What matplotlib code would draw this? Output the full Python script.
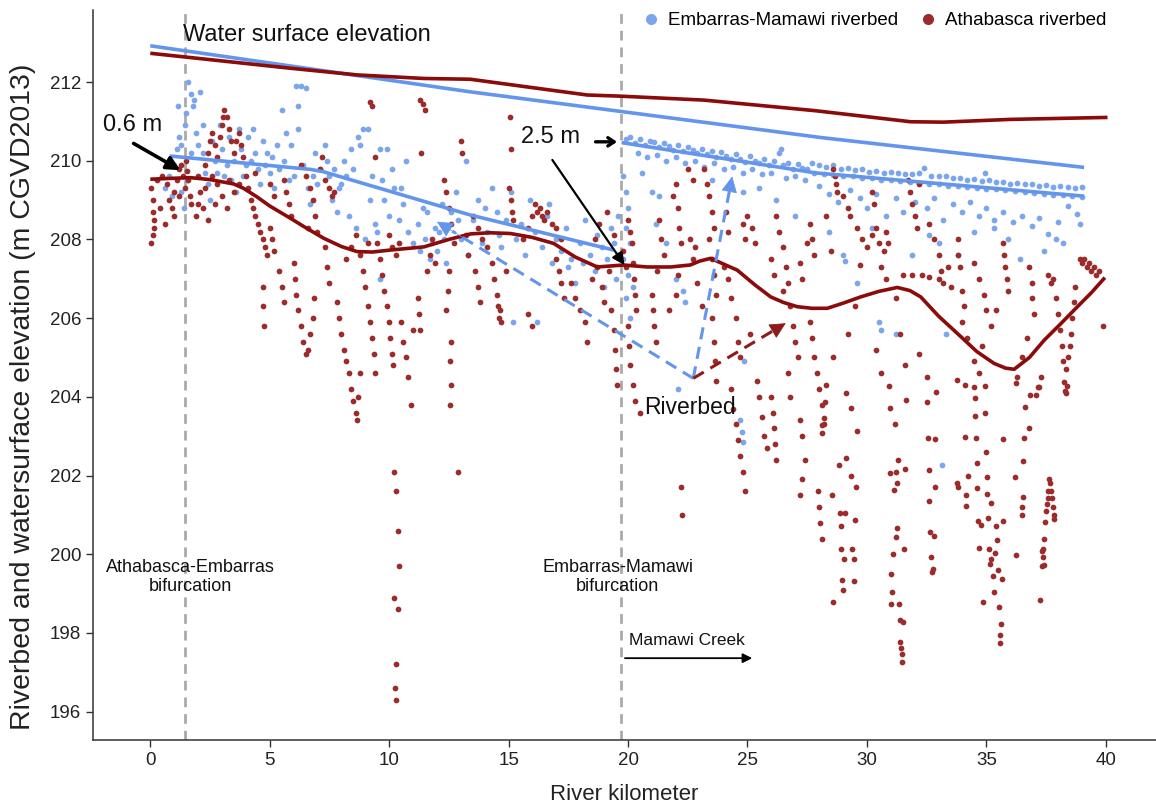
import numpy as np
import matplotlib
matplotlib.use("Agg")
import matplotlib.pyplot as plt
from matplotlib.lines import Line2D

plt.rcParams['font.family'] = ['Liberation Sans', 'DejaVu Sans']

# ---------------- data ----------------
# Water surface elevation lines (km, m)
wse_blue_km = [0, 13.4, 28.06, 39.09]
wse_blue_el = [212.92, 211.75, 210.59, 209.83]
wse_red_km = [0, 5.86, 8.66, 11.45, 13.4, 16.2, 18.29, 19.69, 23.18, 27.85, 31.83, 33.2, 36.0, 40.07]
wse_red_el = [212.73, 212.35, 212.18, 212.09, 212.07, 211.84, 211.67, 211.64, 211.54, 211.27, 210.99, 210.98, 211.05, 211.1]

# Riverbed trend lines
bed_red_km = [0, 0.8, 1.68, 2.5, 3.49, 3.9, 4.47, 5.0, 5.86, 6.5, 7.26, 8.0, 8.66, 9.3, 10.05, 11.45, 12.5,
              13.4, 14.2, 15.08, 16.0, 16.88, 17.8, 18.71, 19.82, 20.8, 21.78, 22.6, 23.0, 23.46, 23.9,
              24.57, 25.3, 25.97, 26.5, 27.09, 27.7, 28.34, 29.0, 29.74, 30.5, 31.27, 31.8, 32.25, 33.0,
              33.93, 34.6, 35.32, 35.8, 36.16, 36.8, 37.42, 38.1, 38.81, 39.4, 39.96]
bed_red_el = [209.53, 209.55, 209.57, 209.52, 209.41, 209.3, 209.08, 208.85, 208.54, 208.3, 208.03, 207.82,
              207.69, 207.68, 207.73, 207.81, 208.0, 208.14, 208.17, 208.15, 208.05, 207.9, 207.55, 207.3,
              207.35, 207.3, 207.3, 207.35, 207.45, 207.52, 207.4, 207.22, 206.85, 206.54, 206.4, 206.29,
              206.25, 206.25, 206.38, 206.54, 206.68, 206.78, 206.7, 206.54, 206.05, 205.53, 205.15, 204.85,
              204.73, 204.7, 205.0, 205.44, 205.85, 206.29, 206.65, 207.03]
bed_blue1_km = [0.81, 6.7, 7.25, 13.4, 19.4]
bed_blue1_el = [210.12, 209.78, 209.72, 208.62, 207.73]
bed_blue2_km = [19.73, 27.85, 39.09]
bed_blue2_el = [210.46, 209.69, 209.1]

# Athabasca riverbed survey points (km, m)
red_pts_west = [
    (0.05,209.3),(0.1,209.0),(0.1,208.7),(0.15,208.5),(0.15,208.3),(0.1,208.1),(0.05,207.9),
    (0.3,209.5),(0.5,209.6),(0.7,209.4),(0.8,209.0),(0.9,208.8),(1.0,209.2),(1.0,208.6),(1.1,209.5),
    (1.2,209.8),(1.3,209.9),(1.35,209.6),(1.45,209.3),(1.5,210.0),(1.55,209.75),(1.6,209.5),(1.65,209.1),
    (1.7,208.9),(1.2,209.1),(0.9,209.9),(1.9,208.6),(2.0,208.9),(2.1,209.2),(2.2,208.8),(2.3,209.3),(2.0,209.6),
    (0.4,208.8),(0.6,208.4),(2.4,208.5),(3.2,208.8),
    (2.3,209.9),(2.4,210.2),(2.5,210.5),(2.6,210.7),(2.7,210.4),(2.8,210.1),(2.9,210.6),(3.0,210.9),
    (3.05,211.1),(3.1,211.3),(3.2,211.1),(3.3,210.8),(3.4,210.5),(3.5,210.2),(3.6,210.5),(3.7,210.7),
    (3.8,210.4),(3.9,210.1),(2.6,209.6),(2.8,209.4),(3.0,209.1),(2.7,208.9),(3.3,209.5),(3.5,209.2),
    (3.7,209.4),(4.0,209.6),
    (4.1,209.3),(4.2,209.0),(4.3,208.8),(4.4,208.6),(4.5,208.4),(4.6,208.2),(4.7,208.0),(4.8,207.8),
    (4.9,207.6),(5.0,208.3),(5.1,208.0),(5.2,207.7),(4.7,206.8),(4.7,206.3),(4.75,205.8),(5.0,209.4),
    (5.2,209.1),(4.4,209.7),(5.4,207.2),(5.5,206.8),(5.6,206.4),
    (5.6,209.5),(5.7,209.2),(5.8,208.9),(5.9,208.6),(6.0,207.4),(6.05,207.0),(6.1,206.6),(6.2,206.2),
    (6.3,205.8),(6.4,205.4),(6.5,205.1),(6.6,205.2),(6.7,205.6),(6.8,206.0),(6.85,206.5),
    (6.3,209.9),(6.5,209.6),(6.7,209.3),(6.8,209.0),(6.9,208.6),(7.0,208.2),(7.1,209.8),(7.2,210.1),
    (7.3,209.5),(6.6,208.3),(7.5,209.3),(7.6,209.1),(7.7,209.2),(7.3,207.8),(7.4,207.3),(7.5,206.9),
    (7.8,206.4),(7.9,206.0),(8.0,205.6),(8.1,205.2),(8.2,204.9),(8.3,204.6),(8.4,204.2),(8.5,203.9),
    (8.6,203.6),(8.65,203.4),(8.7,204.0),(8.8,204.6),(8.2,207.5),(8.4,207.8),(8.6,208.1),(8.8,207.6),
    (8.9,207.2),(9.0,206.8),(9.1,206.3),(9.2,205.9),(9.1,207.9),(9.2,211.5),(9.3,211.4),(9.4,210.1),
    (9.3,205.5),(9.35,205.1),(9.4,204.6),
    (9.5,207.9),(9.6,207.5),(9.7,207.1),(9.8,206.7),(9.9,206.3),(10.0,205.9),(10.05,205.5),(10.1,205.1),
    (10.15,204.8),(10.0,208.1),(10.1,207.8),(10.3,207.6),(10.4,207.9),
    (10.2,202.1),(10.3,201.6),(10.35,200.6),(10.4,199.7),(10.2,198.9),(10.35,198.6),(10.3,197.2),
    (10.25,196.6),(10.3,196.3),
    (10.5,205.9),(10.6,205.4),(10.7,205.0),(10.8,204.5),(10.9,203.8),(11.0,205.7),
    (11.3,211.55),(11.4,211.45),(11.5,211.3),(11.35,210.2),(11.6,207.2),(11.7,207.6),(11.8,208.0),(11.9,207.4),
    (11.2,206.5),(11.25,206.1),(11.3,205.7),
    (12.3,209.5),(12.4,209.2),(12.5,208.8),(12.6,208.4),(12.7,207.9),(12.5,207.2),(12.45,206.7),(12.4,206.2),
    (12.6,205.4),(12.55,204.9),(12.6,204.3),(12.55,203.8),(12.9,202.1),(13.0,210.5),(13.05,210.2),
    (13.2,208.1),(13.3,207.6),(13.6,207.2),(13.7,206.8),(13.8,206.4),
    (13.5,208.6),(13.7,208.3),(13.9,208.0),(14.1,207.8),(14.3,207.4),(14.4,207.0),(14.5,206.6),(14.55,206.3),
    (14.6,206.0),(14.7,205.9),(14.65,206.2),(15.05,211.1),(15.1,210.3),(15.0,209.3),(15.1,209.0),
    (15.15,208.7),(15.2,208.5),(14.9,207.2),
    (15.6,208.0),(15.8,208.3),(16.0,208.6),(16.1,208.9),(16.2,208.7),(16.3,208.8),(16.4,208.6),(16.5,208.5),
    (16.6,208.7),(16.8,208.4),(17.0,208.3),(17.2,208.0),(17.0,207.5),(17.1,207.2),(17.2,206.9),(17.3,206.5),
    (15.8,206.1),(16.0,205.8),
    (17.6,206.9),(17.8,206.5),(18.0,206.2),(18.2,205.9),(18.3,205.4),(18.5,207.0),(18.7,207.3),(18.9,206.8),
    (19.0,206.4),(19.2,207.2),(19.3,206.2),(19.4,205.7),(19.45,205.2),(19.5,204.7),(19.55,204.3),
    (19.4,208.1),(19.6,207.6),(18.6,208.0),(18.8,208.4),(19.1,208.7),
    (19.8,207.7),(19.9,207.3),(20.0,208.5),(20.1,208.2),(20.15,207.9),(20.2,207.4),(20.25,207.0),(20.3,206.6),
    (20.35,206.2),(20.0,205.8),(20.05,205.3),(20.1,204.8),(20.2,204.3),(20.3,203.9),(20.5,203.6),
]
red_pts_east = [
    (21.0,206.6),(21.05,206.2),(21.1,205.8),(21.15,205.4),(21.2,207.2),(21.7,206.2),
    (21.3,208.5),(21.4,208.0),(21.5,207.6),(21.9,209.1),(22.0,209.4),(22.1,208.8),(22.15,208.3),(22.2,207.9),
    (22.1,207.1),(22.0,206.6),(22.2,201.7),(22.25,201.0),(22.6,208.0),(22.7,207.5),(22.8,207.8),(22.9,206.9),
    (23.1,206.3),(22.5,209.8),(22.7,209.5),(23.2,209.8),(23.3,209.4),(23.4,209.1),(23.5,208.7),(23.6,208.3),
    (23.4,208.0),(23.5,207.5),(23.6,207.1),(23.7,206.6),(23.5,206.0),(23.6,205.4),(23.65,204.9),(23.7,204.4),
    (24.0,207.3),(24.2,207.0),(24.3,206.5),(24.5,206.0),(24.6,205.4),(24.7,205.0),(24.3,204.2),(24.4,203.7),
    (24.5,203.3),(24.6,202.9),(24.7,202.5),(24.8,202.1),(24.9,201.6),(24.8,208.4),(24.9,208.0),(25.0,208.6),
    (25.2,208.3),(25.3,207.9),(25.1,205.6),(25.4,204.4),(25.5,204.0),(25.6,203.5),(25.7,203.0),(25.8,202.7),
    (24.1,208.7),(24.2,208.2),(26.0,207.5),(26.1,207.1),(27.2,207.4),(27.3,207.0),
    (26.0,204.0),(26.05,203.6),(26.1,203.2),(26.15,202.8),(26.2,202.4),
    (26.2,208.6),(26.3,208.2),(26.5,207.8),(26.6,207.3),(26.7,206.9),(26.5,206.7),(26.8,206.3),(26.9,205.8),
    (27.0,205.4),(27.1,205.0),(26.7,204.6),(26.8,204.0),(27.2,203.4),(27.3,203.0),(27.4,202.4),(27.3,201.9),
    (27.2,201.5),(27.6,205.9),(27.7,205.5),(27.8,205.0),(27.9,204.6),(28.0,204.2),(28.1,203.8),(28.2,203.3),
    (27.95,201.6),(28.0,201.2),(28.05,200.8),(28.1,200.4),
    (27.6,208.4),(27.7,208.0),(27.8,207.6),(27.5,207.9),(28.3,208.6),(28.5,207.7),
    (28.6,209.8),(28.65,209.6),(28.7,209.4),(28.75,209.2),(29.0,209.1),(29.2,208.8),(29.3,208.6),
    (29.6,208.3),(29.8,208.0),(30.0,207.8),(30.2,208.1),(30.4,208.3),(30.5,207.9),(30.7,207.7),(30.8,208.2),
    (30.9,207.9),(30.2,209.2),(30.3,208.9),(29.7,207.35),(30.6,207.3),(30.8,207.0),
    (28.6,205.0),(29.2,205.6),(29.5,206.3),(30.4,205.2),(30.6,204.6),
    (31.7,209.5),(31.8,209.2),(31.9,208.9),(32.0,208.6),(32.1,208.3),(32.2,209.4),
    (31.5,207.1),(31.9,207.1),(32.3,207.1),(32.6,207.05),(33.0,207.0),(33.1,207.2),(33.2,206.9),(33.4,207.3),
    (33.5,206.8),(33.8,208.0),(33.8,207.6),(33.9,207.3),(34.0,206.7),(34.05,206.3),(34.0,205.9),
    (31.2,206.5),(31.4,205.6),(31.6,204.8),(32.2,205.1),(32.5,204.5),
    (32.6,208.4),(32.8,208.0),(33.0,207.6),(34.5,207.4),(34.7,207.0),(34.9,206.6),(35.0,206.2),(34.8,205.3),
    (34.2,205.5),(34.5,204.9),(34.7,204.6),(36.3,204.5),(36.5,205.0),(36.7,205.5),
    (35.7,207.9),(35.75,207.6),(35.8,207.3),(35.85,207.0),(35.9,206.7),(35.4,206.2),(35.2,205.8),
    (36.8,207.3),(36.9,206.9),(36.9,206.5),(37.0,206.1),(37.6,207.1),(37.7,206.9),(37.8,207.0),
    (37.9,206.5),(38.0,206.1),(38.1,205.7),(38.15,205.3),(38.2,204.9),(37.3,204.5),
    (38.9,207.5),(39.0,207.4),(39.1,207.5),(39.2,207.3),(39.3,207.4),(39.4,207.2),(39.5,207.3),(39.6,207.1),
    (39.7,207.2),(38.7,206.8),(38.65,206.4),(38.6,206.0),(38.55,205.6),(38.5,205.3),(38.4,205.0),
    (38.35,204.7),(39.9,205.8),
]
red_pts_deep = [
    (28.27,204.30),(29.14,204.09),(28.26,203.88),(29.32,203.71),(28.2,203.46),(28.13,203.29),(28.13,203.07),
    (29.57,203.13),(29.11,202.44),(28.83,202.27),(29.34,201.99),(29.53,201.72),(28.52,201.51),(28.87,201.04),
    (29.08,201.04),(28.9,200.72),(29.5,200.87),(28.93,200.13),(29.39,200.13),(29.04,199.87),(29.46,199.87),
    (28.97,199.35),(29.46,199.31),(29.01,199.09),(28.56,198.78),
    (30.92,204.28),(30.96,203.71),(31.62,203.92),(31.16,203.3),(31.3,202.4),(30.95,202.07),(31.2,202.08),
    (31.58,202.16),(31.27,201.8),(31.13,201.63),(31.24,200.66),(31.22,200.45),(31.55,200.13),(31.09,200.01),
    (30.99,199.5),(31.05,199.04),(31.02,198.74),(31.34,198.74),(31.37,198.33),(31.51,198.27),(31.38,197.78),
    (31.43,197.63),(31.45,197.47),(31.48,197.27),
    (32.89,204.13),(32.53,203.88),(32.56,202.95),(32.86,202.94),(32.59,202.13),(32.84,201.72),(32.61,201.36),
    (32.64,200.57),(32.81,200.46),(32.67,199.93),(32.75,199.63),(32.74,199.56),
    (33.76,204.43),(34.09,204.3),(34.48,204.24),(34.93,204.28),(34.51,203.98),(34.54,203.51),(34.96,203.59),
    (34.12,202.99),(34.57,202.96),(35.71,202.92),(34.99,202.59),(34.6,202.33),(34.21,201.98),(35.02,201.96),
    (33.79,201.8),(33.81,201.72),(34.62,201.68),(34.15,201.51),(35.04,201.52),(35.21,201.31),(34.16,201.23),
    (34.65,200.85),(34.79,200.74),(35.07,200.91),(35.41,200.73),(35.69,200.84),(35.43,200.37),(34.69,200.15),
    (35.11,200.13),(35.35,200.02),(35.18,199.87),(35.15,199.75),(35.49,199.59),(35.29,199.45),(35.67,199.37),
    (35.32,199.03),(34.85,198.79),(35.52,198.65),(35.63,198.23),(35.55,197.95),(35.57,197.74),
    (36.24,204.35),(37.14,204.24),(37.21,204.26),(36.83,204.05),(37.08,204.05),(36.61,203.74),(36.79,203.2),
    (36.58,202.96),(36.55,202.37),(36.19,201.97),(36.52,201.46),(36.5,201.21),(36.47,201.0),(36.22,199.99),
    (37.25,198.84),
    (37.64,201.9),(37.67,201.8),(37.6,201.61),(37.72,201.61),(37.56,201.42),(37.74,201.42),(37.53,201.27),
    (37.77,201.21),(37.5,201.1),(37.81,200.99),(37.84,200.89),(37.47,200.82),(37.43,200.38),(37.35,200.13),
    (37.32,200.08),(37.36,199.93),(37.31,199.71),(37.4,199.72),
    (38.26,204.39),(38.39,204.28),(38.3,204.16),(38.35,204.09),
]

# Embarras-Mamawi riverbed survey points (km, m)
blue_pts_west = [
    (0.6,209.3),(0.8,209.6),(0.9,209.1),(1.0,209.9),(1.1,210.3),(1.15,211.4),(1.2,210.6),(1.3,209.2),
    (1.4,208.8),(1.45,210.9),(1.5,211.2),(1.55,209.5),(1.6,212.0),(1.7,211.7),(1.8,211.4),(1.85,211.55),
    (1.9,210.7),(2.0,210.4),(2.1,211.75),(2.2,210.2),(2.3,209.7),(2.4,209.4),(2.5,209.0),(2.7,210.0),
    (2.8,209.7),(3.0,210.3),(3.2,209.9),(3.3,210.6),(3.4,209.5),(3.6,209.2),(3.7,210.8),(3.8,210.3),
    (4.0,209.9),(4.1,210.6),(4.3,210.8),(4.4,210.2),(4.5,209.8),(4.6,209.4),(4.7,210.5),(4.9,210.2),
    (5.0,209.7),(5.2,209.3),(5.3,210.4),(5.5,211.3),(5.6,210.0),(5.8,209.5),(5.9,210.4),(6.1,211.9),
    (6.2,211.4),(6.3,211.9),(6.5,211.85),(6.2,210.8),(6.4,209.9),(6.6,209.3),(6.7,208.9),(6.9,210.2),
    (7.1,209.8),(7.3,210.4),(7.5,209.6),(7.6,209.0),(7.8,208.7),(7.9,209.3),(8.1,210.0),(8.2,209.6),
    (8.3,208.6),(8.4,210.3),(8.5,209.8),(8.6,208.3),(8.7,210.6),(8.8,210.4),(8.9,210.8),(9.0,208.0),
    (9.1,210.8),(9.2,209.0),(9.4,208.4),(9.5,208.2),(9.6,210.3),(9.7,209.5),(9.8,209.0),(9.6,207.0),
    (1.3,210.4),(1.7,210.2),(2.2,210.9),(2.6,210.5),(2.9,210.9),(3.1,209.6),(3.5,210.0),(3.9,209.6),
    (4.2,210.0),(4.8,209.9),(5.1,210.1),(5.4,209.8),(5.7,210.7),(6.0,209.6),(6.8,209.6),(7.0,209.4),
    (7.4,210.0),(7.7,209.8),(8.0,209.4),(9.3,209.6),(9.9,210.3),(10.1,209.8),(10.5,209.3),(10.7,210.0),
    (10.0,208.6),(10.2,209.3),(10.4,208.5),(10.6,208.9),(10.8,208.2),(11.0,207.9),(11.2,208.4),
    (11.3,207.7),(11.5,208.0),(11.6,208.7),(11.7,207.5),(11.8,207.9),(11.9,208.3),(12.0,207.7),
    (12.2,208.9),(12.3,208.0),(12.4,207.4),(12.6,208.7),(12.8,209.2),(13.0,208.0),(13.2,210.0),
    (13.3,207.6),(13.5,208.5),(13.7,209.0),(13.9,207.9),(14.1,208.2),(14.3,209.3),(14.5,208.7),
    (14.7,207.8),(14.9,208.5),(15.1,209.2),(15.2,205.9),(15.3,208.0),(15.5,208.4),(15.7,207.6),
    (15.9,209.0),(16.1,208.2),(16.2,205.9),(16.4,207.8),(16.6,208.6),(16.8,207.4),(17.0,208.0),
    (17.2,207.7),(17.4,208.3),(17.6,207.5),(17.8,206.9),(18.0,207.9),(18.2,208.5),(18.4,207.6),
    (18.6,207.2),(18.7,208.1),(18.9,207.8),(19.0,206.8),(19.1,207.5),(19.3,208.3),(19.4,207.9),
    (19.5,207.0),(19.6,208.6),(11.4,208.8),(12.1,208.2),(12.9,208.5),(14.0,208.8),(14.6,208.1),
    (16.7,208.9),(17.5,207.3),(18.1,207.4),
]
blue_pts_east = [
    (19.8,209.6),(19.9,209.2),(20.0,208.8),(19.9,208.3),(20.1,207.9),(19.8,207.5),(20.0,207.1),
    (20.2,206.8),(19.9,206.5),(20.1,206.0),
    (19.9,210.55),(20.1,210.6),(20.3,210.45),(20.5,210.55),(20.7,210.4),(20.9,210.5),(21.1,210.48),
    (21.3,210.35),(21.5,210.45),(21.7,210.38),(21.9,210.28),(22.1,210.4),(22.3,210.25),(22.5,210.35),
    (22.7,210.28),(22.9,210.2),(23.1,210.3),(23.3,210.18),(23.5,210.25),(23.7,210.1),(23.9,210.22),
    (24.1,210.12),(24.3,210.05),(24.5,210.18),(24.7,210.05),(24.9,209.98),(25.1,210.12),(25.3,210.0),
    (25.5,209.95),(25.7,210.05),(25.9,209.9),(26.1,210.0),(26.3,210.2),(26.4,210.3),(26.5,209.88),
    (26.7,209.95),(26.9,209.8),(27.1,209.92),(27.3,209.82),(27.5,209.78),
    (20.4,210.2),(20.8,210.1),(21.2,210.15),(21.6,210.0),(22.0,210.1),(22.4,209.95),(22.8,210.0),
    (23.2,209.85),(23.6,209.95),(24.0,209.8),(24.4,209.85),(24.8,209.7),(25.2,209.8),(25.6,209.65),
    (26.0,209.7),(26.6,209.55),(27.0,209.6),(27.4,209.5),
    (20.6,209.7),(21.0,209.2),(21.3,209.1),(21.15,208.4),(21.6,207.9),(22.0,207.0),(22.3,206.7),
    (22.4,206.4),(22.1,204.2),(23.5,209.5),(24.8,209.2),(24.85,204.9),(24.7,203.4),(24.75,203.1),
    (24.8,202.85),(25.5,209.3),(26.2,209.0),(27.0,208.6),
    (27.7,209.95),(28.0,209.88),(28.3,209.85),(28.6,209.88),(28.9,209.8),(29.2,209.82),(29.5,209.76),
    (29.8,209.78),(30.1,209.72),(30.4,209.75),(30.7,209.7),(31.0,209.72),(31.3,209.68),(31.6,209.65),
    (31.9,209.66),(32.2,209.7),(32.4,209.82),(32.7,209.62),(33.0,209.6),(33.3,209.6),(33.6,209.55),
    (33.9,209.56),(34.2,209.52),(34.5,209.54),(34.8,209.48),(34.95,209.7),(35.1,209.5),(35.4,209.45),
    (35.7,209.47),(36.0,209.42),(36.3,209.44),(36.6,209.4),(36.9,209.42),(37.2,209.36),(37.5,209.38),
    (37.8,209.33),(38.1,209.35),(38.4,209.32),(38.7,209.3),(39.0,209.32),
    (27.8,209.7),(28.2,209.66),(28.6,209.64),(29.0,209.6),(29.4,209.6),(29.8,209.56),(30.2,209.55),
    (30.6,209.52),(31.0,209.5),(31.4,209.48),(31.8,209.46),(32.2,209.44),(32.6,209.42),(33.0,209.4),
    (33.4,209.37),(33.8,209.36),(34.2,209.33),(34.6,209.31),(35.0,209.29),(35.4,209.27),(35.8,209.25),
    (36.2,209.23),(36.6,209.21),(37.0,209.19),(37.4,209.16),(37.8,209.14),(38.2,209.12),(38.6,209.1),
    (39.0,209.08),
    (28.0,209.35),(28.4,209.15),(28.8,208.95),(29.3,209.25),(29.7,209.05),(30.0,208.8),(30.4,209.15),
    (30.8,208.6),(31.2,209.05),(31.5,208.7),(32.0,208.95),(32.5,208.8),(32.8,209.05),(33.2,208.5),
    (33.6,208.9),(34.0,208.7),(34.3,208.95),(34.7,208.6),(35.0,208.8),(35.3,208.5),(35.7,208.7),
    (36.1,208.45),(36.5,208.6),(36.9,208.35),(37.2,208.55),(37.6,208.15),(38.0,208.45),(38.4,208.85),
    (38.8,208.65),(38.9,208.4),
    (28.4,208.2),(29.0,207.6),(29.1,207.45),(29.6,206.9),(30.2,208.3),(30.5,205.9),(30.6,205.7),
    (31.2,205.6),(31.9,207.6),(32.6,208.1),(33.0,207.9),(33.3,205.6),(33.8,207.6),(34.5,208.2),
    (35.3,208.3),(35.9,208.0),(36.4,207.5),(37.4,207.7),(37.9,208.0),(38.2,207.9),(33.16,202.27),
]

x_ticks = [0, 5, 10, 15, 20, 25, 30, 35, 40]
y_ticks = [196, 198, 200, 202, 204, 206, 208, 210, 212]
bifurcations_km = [1.46, 19.7]

# annotation anchor points (km, m)
riverbed_vertex = (22.73, 204.47)
blue_arrow_tips = [(12.0, 208.45), (24.36, 209.6)]
red_arrow_tip = (26.6, 205.87)

# ---------------- styling ----------------
BLUE_PT = '#7BA6EC'
BLUE_LN = '#6495ED'
RED_PT = '#9C2B2B'
RED_LN = '#8B0A0A'

fig = plt.figure(figsize=(11.56, 8.05), dpi=100)
ax = fig.add_axes([0.0804, 0.0807, 0.9196, 0.9069])

ax.set_xlim(-2.4, 42.1)
ax.set_ylim(195.28, 213.83)

for k in bifurcations_km:
    ax.axvline(k, color='#AAAAAA', lw=2.0, ls=(0, (3.5, 2.5)), zorder=1)

blue_pts = blue_pts_west + blue_pts_east
red_pts = red_pts_west + red_pts_east + red_pts_deep
bx, by = zip(*blue_pts)
rx, ry = zip(*red_pts)
ax.scatter(bx, by, s=17, color=BLUE_PT, linewidths=0, zorder=2)
ax.scatter(rx, ry, s=17, color=RED_PT, linewidths=0, zorder=3)

kw = dict(lw=2.6, solid_capstyle='butt', solid_joinstyle='round', zorder=4)
ax.plot(wse_blue_km, wse_blue_el, color=BLUE_LN, **kw)
ax.plot(wse_red_km, wse_red_el, color=RED_LN, **kw)
ax.plot(bed_blue1_km, bed_blue1_el, color=BLUE_LN, **kw)
ax.plot(bed_blue2_km, bed_blue2_el, color=BLUE_LN, **kw)
ax.plot(bed_red_km, bed_red_el, color=RED_LN, **kw)

# dashed arrows from riverbed vertex
def dashed_arrow(tip, color):
    vx, vy = riverbed_vertex
    tx, ty = tip
    ax.plot([vx, tx - 0.06 * (tx - vx)], [vy, ty - 0.06 * (ty - vy)], color=color,
            lw=2.2, ls=(0, (4, 2.5)), zorder=5)
    ax.annotate('', xy=tip, xytext=(tx - 0.1 * (tx - vx), ty - 0.1 * (ty - vy)),
                arrowprops=dict(arrowstyle='-|>', color=color, lw=0.5,
                                mutation_scale=26, shrinkA=0, shrinkB=0), zorder=6)

for t in blue_arrow_tips:
    dashed_arrow(t, BLUE_LN)
dashed_arrow(red_arrow_tip, '#8E1A1A')

# black annotation arrows
ax.annotate('', xy=(1.26, 209.76), xytext=(-0.7, 210.44),
            arrowprops=dict(arrowstyle='-|>', color='black', lw=2.6, mutation_scale=20,
                            shrinkA=0, shrinkB=0), zorder=7)
ax.annotate('', xy=(19.85, 207.35), xytext=(16.83, 210.02),
            arrowprops=dict(arrowstyle='-|>', color='black', lw=1.6, mutation_scale=18,
                            shrinkA=0, shrinkB=0), zorder=7)
ax.annotate('', xy=(19.54, 210.48), xytext=(18.64, 210.48),
            arrowprops=dict(arrowstyle='->, head_length=0.45, head_width=0.3', color='black', lw=2.4,
                            shrinkA=0, shrinkB=0), zorder=7)
ax.annotate('', xy=(25.2, 197.36), xytext=(19.87, 197.36),
            arrowprops=dict(arrowstyle='-|>', color='black', lw=1.3, mutation_scale=14,
                            shrinkA=0, shrinkB=0), zorder=7)

# texts
ax.text(1.38, 213.19, 'Water surface elevation', fontsize=17, ha='left', va='center', color='#111111')
ax.text(-1.97, 210.9, '0.6 m', fontsize=17, ha='left', va='center', color='#111111')
ax.text(15.5, 210.6, '2.5 m', fontsize=17, ha='left', va='center', color='#111111')
ax.text(22.6, 203.74, 'Riverbed', fontsize=16.5, ha='center', va='center', color='#111111')
ax.text(1.67, 199.42, 'Athabasca-Embarras\nbifurcation', fontsize=13, ha='center', va='center',
        linespacing=1.15, color='#111111')
ax.text(19.56, 199.42, 'Embarras-Mamawi\nbifurcation', fontsize=13, ha='center', va='center',
        linespacing=1.15, color='#111111')
ax.text(20.02, 197.8, 'Mamawi Creek', fontsize=12.5, ha='left', va='center', color='#111111')

# axes styling
for s in ['top', 'right']:
    ax.spines[s].set_visible(False)
for s in ['left', 'bottom']:
    ax.spines[s].set_color('#333333')
    ax.spines[s].set_linewidth(1.1)
ax.set_xticks(x_ticks)
ax.set_yticks(y_ticks)
ax.tick_params(axis='both', labelsize=13.5, colors='#333333', length=5, width=1, labelcolor='#222222')
ax.set_xlabel('River kilometer', fontsize=16, color='#222222', labelpad=11)
ax.set_ylabel('Riverbed and watersurface elevation (m CGVD2013)', fontsize=20.5, color='#222222')
ax.yaxis.set_label_coords(-0.054, 0.47)

# legend
handles = [Line2D([], [], ls='none', marker='o', ms=8, mfc=BLUE_PT, mec='none'),
           Line2D([], [], ls='none', marker='o', ms=8, mfc=RED_PT, mec='none')]
fig.legend(handles, ['Embarras-Mamawi riverbed', 'Athabasca riverbed'], loc='upper right',
           bbox_to_anchor=(0.967, 0.999), ncol=2, frameon=False, fontsize=13.5,
           handletextpad=0.3, columnspacing=1.0, handlelength=1.2, borderaxespad=0.2)

fig.savefig('out.png', dpi=100)
